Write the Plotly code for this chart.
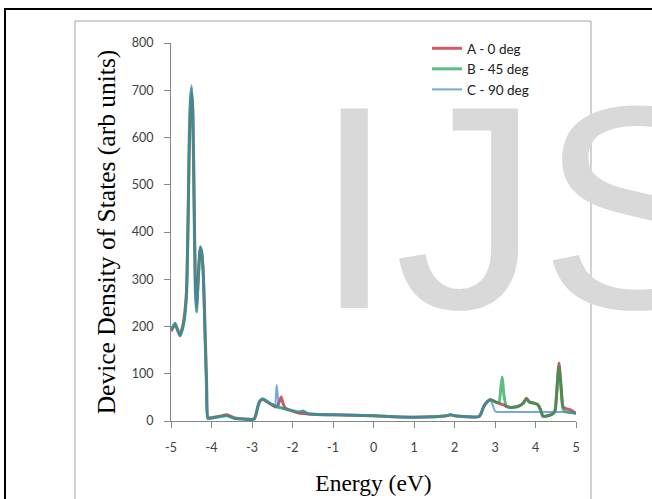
import plotly.graph_objects as go

# ---------------- data ----------------
energy = [-5.00, -4.95, -4.90, -4.85, -4.78, -4.70, -4.62, -4.58, -4.55, -4.52,
          -4.49, -4.46, -4.43, -4.40, -4.37, -4.33, -4.29, -4.27, -4.24, -4.20,
          -4.16, -4.12, -4.09, -4.00, -3.80, -3.62, -3.45, -3.20, -2.95, -2.90,
          -2.85, -2.80, -2.74, -2.65, -2.55, -2.47, -2.43, -2.41, -2.39, -2.36,
          -2.33, -2.28, -2.25, -2.20, -2.15, -2.00, -1.85, -1.74, -1.60, -1.40,
          -1.00, -0.50, 0.00, 0.50, 1.00, 1.50, 1.80, 1.90, 2.00, 2.30,
          2.60, 2.65, 2.72, 2.80, 2.88, 2.95, 3.00, 3.05, 3.10, 3.15,
          3.18, 3.22, 3.28, 3.35, 3.45, 3.60, 3.70, 3.78, 3.85, 3.95,
          4.05, 4.12, 4.18, 4.25, 4.40, 4.48, 4.53, 4.58, 4.63, 4.68,
          4.75, 4.85, 5.00]

dos_a_0deg = [190, 198, 205, 195, 182, 205, 270, 410, 570, 660,
              695, 655, 480, 300, 240, 295, 355, 365, 355, 310,
              195, 80, 8, 7, 10, 13, 7, 4, 4, 14,
              32, 42, 46, 42, 36, 32, 30, 30, 31, 34,
              40, 51, 42, 30, 26, 21, 17, 16, 15, 14,
              13, 12, 11, 9, 8, 9, 11, 13, 11, 9,
              9, 15, 30, 40, 45, 43, 41, 39, 37, 36,
              35, 34, 31, 29, 29, 32, 38, 48, 40, 38,
              35, 25, 11, 10, 14, 22, 70, 123, 75, 30,
              26, 24, 16]

dos_b_45deg = [193, 200, 207, 196, 180, 200, 260, 420, 600, 680,
               705, 640, 450, 280, 231, 300, 360, 369, 355, 300,
               180, 60, 5, 6, 9, 11, 6, 4, 4, 15,
               33, 43, 47, 43, 37, 34, 31, 30, 30, 29,
               28, 28, 27, 26, 25, 22, 19, 21, 15, 14,
               13, 12, 11, 9, 8, 9, 11, 13, 11, 9,
               9, 15, 30, 40, 45, 43, 41, 39, 40, 75,
               93, 55, 31, 29, 29, 32, 38, 47, 40, 38,
               35, 24, 10, 10, 14, 20, 65, 116, 70, 25,
               19, 18, 16]

dos_c_90deg = [193, 200, 207, 196, 180, 200, 260, 420, 600, 685,
               711, 640, 450, 280, 231, 300, 360, 369, 355, 300,
               180, 60, 5, 6, 9, 11, 6, 4, 4, 15,
               33, 43, 47, 43, 37, 34, 31, 55, 76, 50,
               29, 28, 27, 26, 25, 22, 19, 21, 15, 14,
               13, 12, 11, 9, 8, 9, 11, 13, 11, 9,
               9, 15, 30, 40, 45, 32, 21, 19, 19, 19,
               19, 19, 19, 19, 19, 19, 19, 19, 19, 19,
               19, 19, 19, 19, 19, 19, 19, 19, 19, 19,
               19, 18, 17]

series_names = ["A - 0 deg", "B - 45 deg", "C - 90 deg"]
series_values = [dos_a_0deg, dos_b_45deg, dos_c_90deg]
series_colors = ["#b8181e", "#18a050", "#3f86c4"]
series_widths = [3, 3, 2]

x_ticks = [-5, -4, -3, -2, -1, 0, 1, 2, 3, 4, 5]
y_ticks = [0, 100, 200, 300, 400, 500, 600, 700, 800]

# ---------------- figure ----------------
fig = go.Figure()
for name, vals, col, w in zip(series_names, series_values, series_colors, series_widths):
    fig.add_trace(go.Scatter(
        x=energy, y=vals, mode="lines", name=name,
        line=dict(color=col, width=w, shape="spline", smoothing=0.5),
        opacity=0.7,
    ))

L, R, T, B = 171, 76, 43, 78
W, H = 652, 499
pw, ph = W - L - R, H - T - B


def px(xp):
    return (xp - L) / pw


def py(yp):
    return (H - B - yp) / ph


axis_gray = "#868686"
tick_font = dict(family="Lato", size=12.5, color="#404040")

fig.update_layout(
    width=W, height=H,
    margin=dict(l=L, r=R, t=T, b=B, autoexpand=False),
    paper_bgcolor="white", plot_bgcolor="white",
    showlegend=True,
    legend=dict(
        x=px(427), y=py(33), xanchor="left", yanchor="top",
        bgcolor="rgba(0,0,0,0)", borderwidth=0,
        font=dict(family="Lato", size=13.5, color="#202020"),
        tracegroupgap=0,
    ),
    xaxis=dict(
        range=[-5, 5], tickvals=x_ticks, ticktext=[str(v) for v in x_ticks],
        ticks="outside", ticklen=6, tickcolor=axis_gray, tickwidth=1,
        showline=True, linecolor=axis_gray, linewidth=1,
        showgrid=False, zeroline=False, tickfont=tick_font,
        ticklabelstandoff=9,
        title=dict(text="Energy (eV)", standoff=20,
                   font=dict(family="Liberation Serif", size=23.5, color="black")),
    ),
    yaxis=dict(
        range=[0, 800], tickvals=y_ticks,
        ticks="outside", ticklen=6, tickcolor=axis_gray, tickwidth=1,
        showline=True, linecolor=axis_gray, linewidth=1,
        showgrid=False, zeroline=False, tickfont=tick_font,
        ticklabelstandoff=8,
        title=dict(text="Device Density of States (arb units)", standoff=8,
                   font=dict(family="Liberation Serif", size=25.5, color="black")),
    ),
    shapes=[
        dict(type="rect", xref="paper", yref="paper",
             x0=px(5), x1=px(700), y0=py(560), y1=py(9),
             line=dict(color="black", width=2), fillcolor="rgba(0,0,0,0)", layer="below"),
        dict(type="rect", xref="paper", yref="paper",
             x0=px(75), x1=px(591), y0=py(560), y1=py(21),
             line=dict(color="#a6a6a6", width=1), fillcolor="rgba(0,0,0,0)", layer="below"),
    ],
    annotations=[
        dict(text="IJS", xref="paper", yref="paper", x=px(312), y=py(207),
             xanchor="left", yanchor="middle", showarrow=False,
             font=dict(family="Liberation Sans", size=290, color="#d9d9d9")),
    ],
)

fig.write_html("out.html")
